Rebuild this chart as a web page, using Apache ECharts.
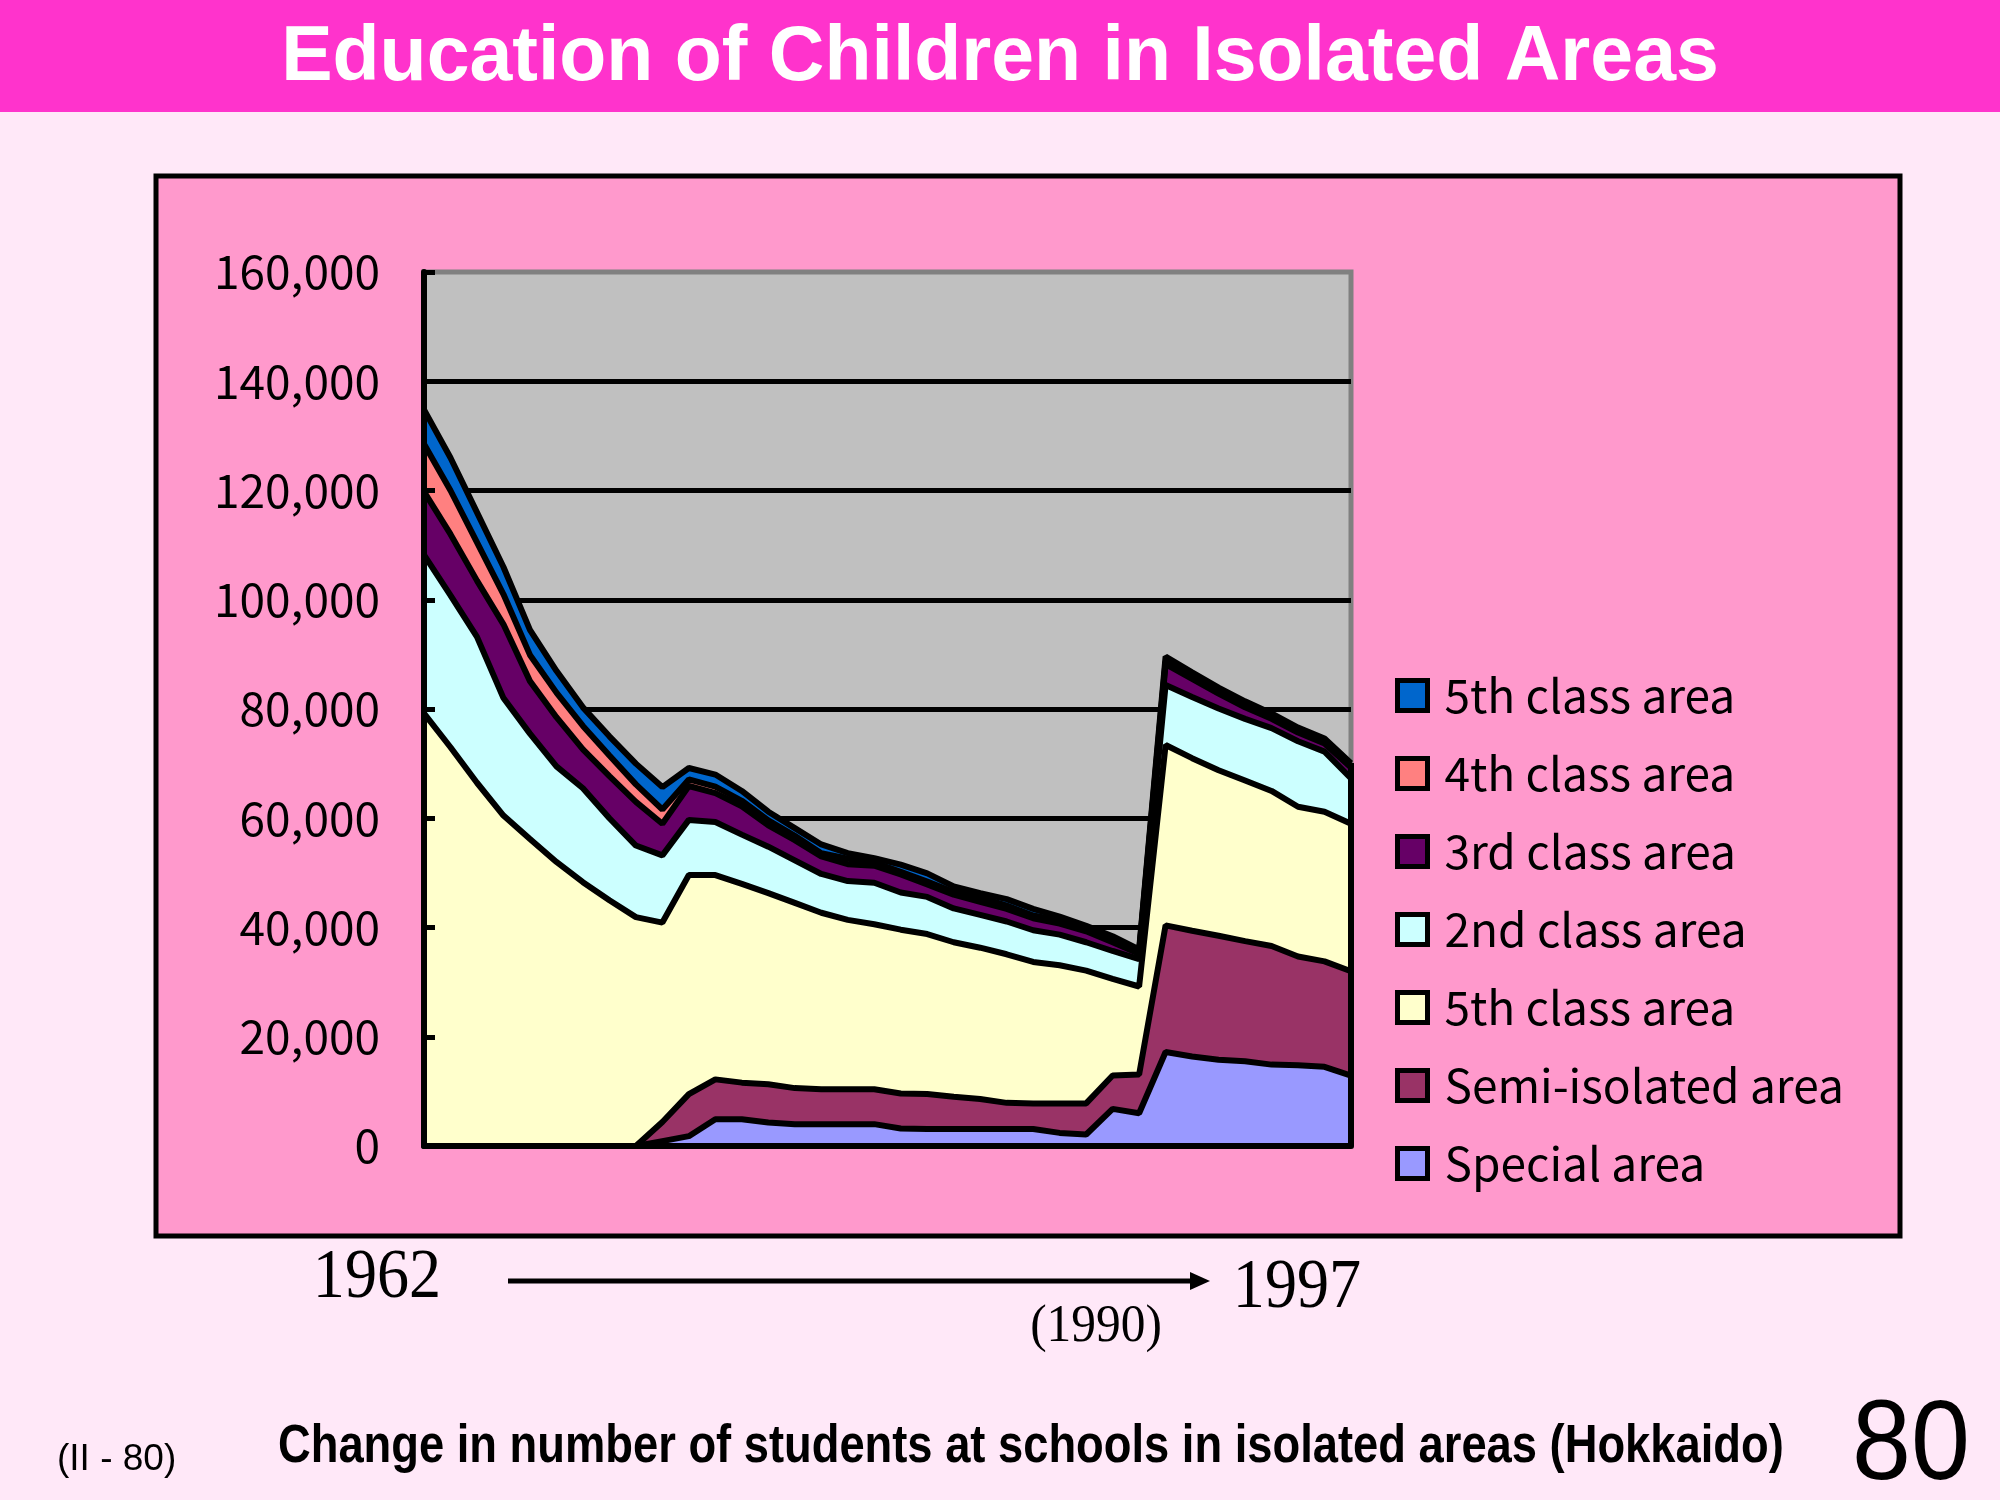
<!DOCTYPE html>
<html>
<head>
<meta charset="utf-8">
<script src="https://cdn.jsdelivr.net/npm/echarts@6/dist/echarts.min.js"></script>
<style>
html,body{margin:0;padding:0;background:#FFE8F8;}
#main{width:2000px;height:1500px;}
</style>
</head>
<body>
<div id="main"></div>
<script>
// ---- categories (years) ----
const years = ['1962','1963','1964','1965','1966','1967','1968','1969','1970','1971','1972','1973',
  '1974','1975','1976','1977','1978','1979','1980','1981','1982','1983','1984','1985',
  '1986','1987','1988','1989','1990','1991','1992','1993','1994','1995','1996','1997'];

// ---- series values (students), bottom layer first ----
const specialArea = [0,0,0,0,0,0,0,0,0,900,1800,4900,4900,4300,4000,4000,4000,4000,3200,3100,3100,3100,3100,3100,2400,2100,6800,6000,17200,16400,15800,15500,14900,14800,14500,12900];
const semiIsolatedArea = [0,0,0,0,0,0,0,0,0,3500,7700,7300,6700,7000,6600,6400,6400,6400,6400,6400,5900,5500,4800,4700,5400,5700,6100,7100,23200,23000,22700,22000,21700,19900,19300,19100];
const yellowClassArea = [79200,73000,66500,60500,56200,52000,48300,45000,41900,36500,40100,37400,36400,35000,33900,32300,31000,30200,30000,29300,28300,27700,27200,25900,25300,24300,17700,16100,33000,31600,30300,29400,28400,27400,27400,27000];
const class2Area = [29000,27800,26700,21500,19300,17500,17200,15000,13100,12300,10100,9700,9000,8500,7800,7100,7100,7600,6800,6800,6200,6000,6000,5800,5600,5200,5100,5000,11000,11200,11300,11300,11500,12000,11000,8300];
const class3Area = [11600,11200,10300,13500,9600,9000,7100,7700,8000,5800,6200,5300,5200,3900,3700,3200,3100,3100,3300,2300,2500,2400,2300,2200,2000,2000,1600,1000,3800,3300,2700,2100,1700,1600,1500,2000];
const class4Area = [8700,8000,7000,5500,4800,4500,4300,3800,3200,2600,1200,1200,1000,900,800,600,1000,600,500,500,500,800,600,500,600,400,600,400,600,500,500,500,400,400,400,300];
const class5Area = [6300,6000,5500,5000,4600,4000,3400,3500,3800,4100,2100,2200,1800,1600,1400,1600,1000,800,1300,1500,1000,800,1200,1200,700,600,500,400,800,700,600,600,600,500,500,500];

// ---- axis ----
const yMin = 0, yMax = 160000, yInterval = 20000;

// ---- legend labels (as printed, top to bottom) ----
const legendNames = ['5th class area','4th class area','3rd class area','2nd class area','5th class area ','Semi-isolated area','Special area'];

const layers = [
  {name:'Special area',       data:specialArea,      color:'#9999FF'},
  {name:'Semi-isolated area', data:semiIsolatedArea, color:'#993366'},
  {name:'5th class area ',    data:yellowClassArea,  color:'#FFFFCC'},
  {name:'2nd class area',     data:class2Area,       color:'#CCFFFF'},
  {name:'3rd class area',     data:class3Area,       color:'#660066'},
  {name:'4th class area',     data:class4Area,       color:'#FF8080'},
  {name:'5th class area',     data:class5Area,       color:'#0066CC'}
];

const last = years.length - 1;
const lastTotal = layers.reduce((s, l) => s + l.data[last], 0);

const series = layers.map((l, idx) => {
  const s = {
    type:'line', name:l.name, data:l.data, stack:'total',
    symbol:'none', showSymbol:false, silent:true,
    lineStyle:{color:'#000', width:6},
    itemStyle:{color:l.color},
    areaStyle:{color:l.color, opacity:1},
    emphasis:{disabled:true},
    animation:false
  };
  if (idx === layers.length - 1) {
    s.markLine = {
      silent:true, symbol:['none','none'], label:{show:false}, animation:false,
      lineStyle:{color:'#000', width:6, type:'solid'},
      data:[[{coord:[years[last], 0]}, {coord:[years[last], lastTotal]}]]
    };
  }
  return s;
});

const chart = echarts.init(document.getElementById('main'));
chart.setOption({
  backgroundColor:'#FFE8F8',
  animation:false,
  grid:{left:424, top:272, width:927, height:874, show:true,
        backgroundColor:'#C0C0C0', borderColor:'#808080', borderWidth:5},
  xAxis:{type:'category', data:years, boundaryGap:false, z:10,
         axisLine:{show:true, lineStyle:{color:'#000', width:6}},
         axisTick:{show:false}, axisLabel:{show:false}, splitLine:{show:false}},
  yAxis:[
    {type:'value', min:yMin, max:yMax, interval:yInterval, position:'left', z:10,
     axisLine:{show:true, lineStyle:{color:'#000', width:6}},
     axisTick:{show:true, inside:true, length:11, lineStyle:{color:'#000', width:5}},
     axisLabel:{margin:44, color:'#000', fontFamily:'"Noto Sans CJK JP"', fontSize:46,
                formatter:v => v.toLocaleString('en-US')},
     splitLine:{show:false}},
    {type:'value', min:yMin, max:yMax, interval:yInterval, position:'right',
     axisLine:{show:false}, axisTick:{show:false}, axisLabel:{show:false},
     splitLine:{show:true, showMinLine:false, showMaxLine:false, lineStyle:{color:'#000', width:5}}}
  ],
  legend:{
    orient:'vertical', left:1395, top:672, padding:0,
    data:legendNames, icon:'rect', itemWidth:30, itemHeight:30, itemGap:31,
    selectedMode:false,
    itemStyle:{borderColor:'#000', borderWidth:5},
    textStyle:{fontFamily:'"Noto Sans CJK JP"', fontSize:46, lineHeight:47, color:'#000', padding:[0,0,0,12]}
  },
  series:series,
  graphic:[
    {type:'rect', z:-10, silent:true, shape:{x:0, y:0, width:2000, height:112}, style:{fill:'#FF33CC'}},
    {type:'rect', z:-10, silent:true, shape:{x:156, y:176, width:1744, height:1060}, style:{fill:'#FF99CC', stroke:'#000', lineWidth:5}},
    {type:'text', x:1000, y:59, silent:true,
     style:{text:'Education of Children in Isolated Areas', font:'bold 77px "Liberation Sans", Arial, sans-serif', fill:'#FFFFFF', align:'center', verticalAlign:'middle'}},
    {type:'text', x:377, y:1279, scaleX:0.93, silent:true,
     style:{text:'1962', font:'69px "Liberation Serif", "Times New Roman", serif', fill:'#000', align:'center', verticalAlign:'middle'}},
    {type:'text', x:1297, y:1289, scaleX:0.93, silent:true,
     style:{text:'1997', font:'69px "Liberation Serif", "Times New Roman", serif', fill:'#000', align:'center', verticalAlign:'middle'}},
    {type:'text', x:1096, y:1327, scaleX:0.95, silent:true,
     style:{text:'(1990)', font:'52px "Liberation Serif", "Times New Roman", serif', fill:'#000', align:'center', verticalAlign:'middle'}},
    {type:'line', silent:true, shape:{x1:508, y1:1281, x2:1195, y2:1281}, style:{stroke:'#000', lineWidth:5}},
    {type:'polygon', silent:true, shape:{points:[[1190,1272],[1210,1281],[1190,1290]]}, style:{fill:'#000'}},
    {type:'text', x:57, y:1460, silent:true,
     style:{text:'(II - 80)', font:'37px "Liberation Sans", Arial, sans-serif', fill:'#000', align:'left', verticalAlign:'middle'}},
    {type:'text', x:278, y:1447, scaleX:0.855, silent:true,
     style:{text:'Change in number of students at schools in isolated areas (Hokkaido)', font:'bold 53px "Liberation Sans", Arial, sans-serif', fill:'#000', align:'left', verticalAlign:'middle'}},
    {type:'text', x:1852, y:1448, scaleX:0.93, silent:true,
     style:{text:'80', font:'114px "Liberation Sans", Arial, sans-serif', fill:'#000', align:'left', verticalAlign:'middle'}}
  ]
});
</script>
</body>
</html>
